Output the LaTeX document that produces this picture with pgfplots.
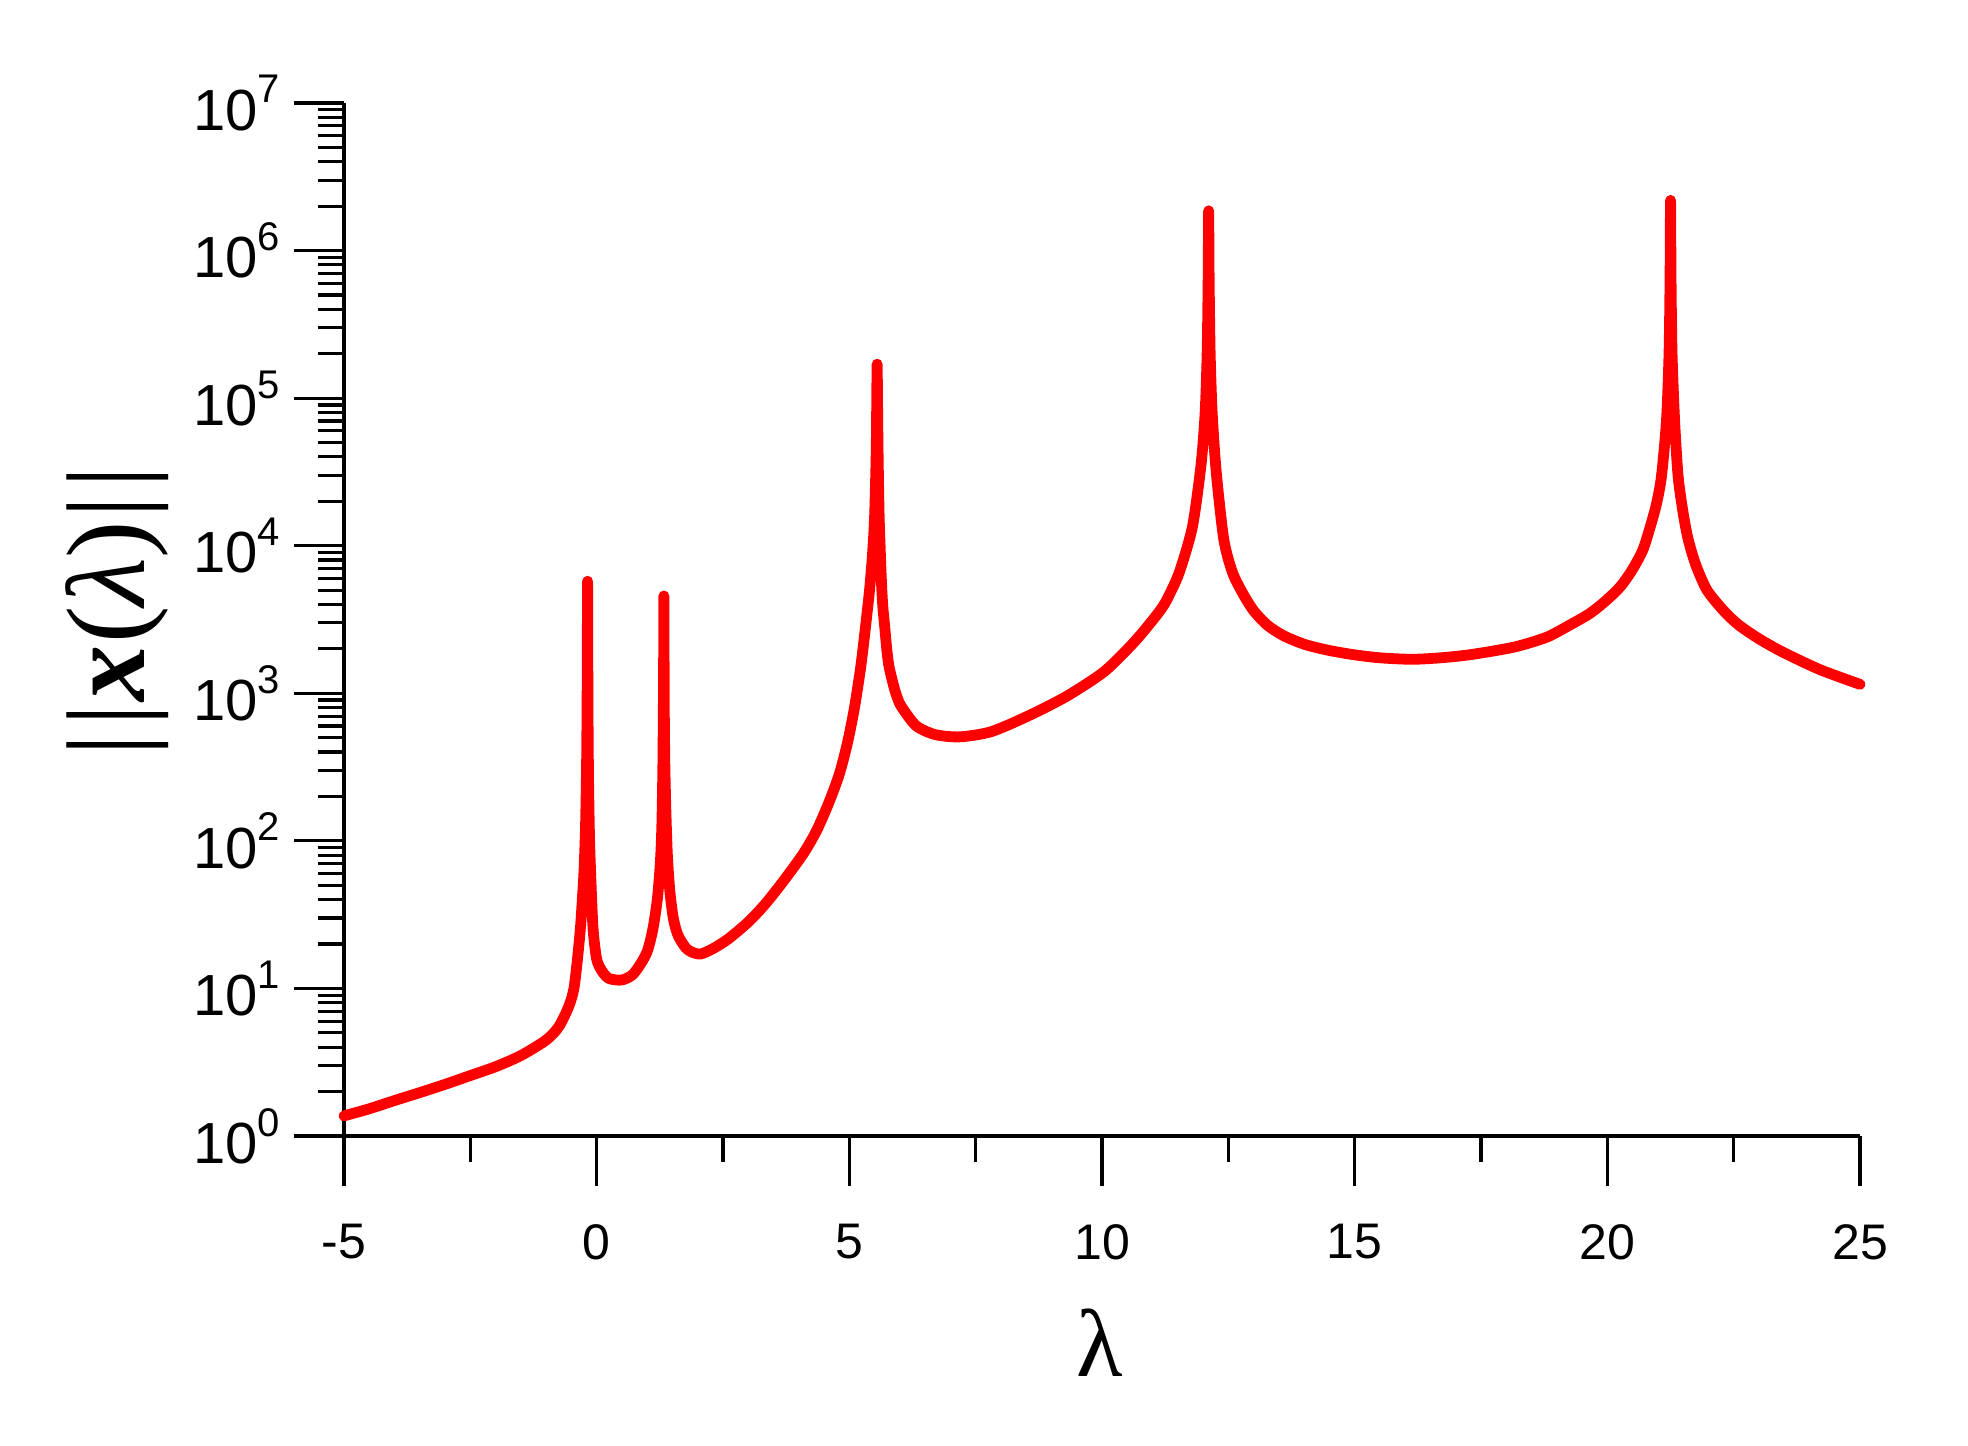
\documentclass[border=0pt]{standalone}
\usepackage{fontspec}
\setmainfont{Liberation Sans}
\newfontfamily\serif{Liberation Serif}
\usepackage{pgfplots}
\pgfplotsset{compat=1.18}

\newcommand{\tenpow}[1]{10\raisebox{6.8pt}{\fontsize{10}{10}\selectfont #1}}

\begin{document}
\begin{tikzpicture}
\begin{axis}[
  scale only axis,
  width=379pt, height=258.25pt,
  xmin=-5, xmax=25, ymin=1, ymax=1e7,
  ymode=log,
  axis x line*=bottom, axis y line*=left,
  axis line style={line width=0.8pt},
  every tick/.style={black, line width=0.8pt},
  tick align=outside,
  major tick length=12.5pt, minor tick length=6.5pt,
  xtick={-5,0,5,10,15,20,25},
  xticklabels={-5,0,5,10,15,20,25},
  minor xtick={-2.5,2.5,7.5,12.5,17.5,22.5},
  ytick={1,10,100,1000,10000,100000,1000000,10000000},
  yticklabels={\tenpow{0},\tenpow{1},\tenpow{2},\tenpow{3},\tenpow{4},\tenpow{5},\tenpow{6},\tenpow{7}},
  xticklabel style={font=\fontsize{12.5}{14}\selectfont, yshift=-6pt},
  yticklabel style={font=\fontsize{14.5}{16}\selectfont},
  xlabel={\serif\fontsize{24}{28}\selectfont λ},
  ylabel={\serif\fontsize{28}{32}\selectfont |\kern2pt|\kern0.5pt\textbf{\textit{x}}\kern0.5pt(\textit{λ})\kern0.5pt|\kern2pt|},
  xlabel style={at={(axis description cs:0.4987,-0.2004)}, anchor=center},
  ylabel style={at={(axis description cs:-0.1497,0.508)}, anchor=center},
  clip=false,
]
\addplot[color=red, line width=2.7pt, line join=round, line cap=round, smooth, tension=0.45] coordinates {
  (-5.00,1.37)(-4.5,1.53)(-4.0,1.74)(-3.5,1.97)(-3.0,2.24)(-2.5,2.57)
  (-2.0,2.95)(-1.5,3.51)(-1.0,4.47)(-0.75,5.50)(-0.55,7.59)(-0.45,10)
  (-0.38,15.8)(-0.32,26)
  (-0.28,42)(-0.25,63)(-0.22,126)(-0.20,316)(-0.19,800)(-0.185,2000)
  (-0.18,5750)(-0.175,1580)(-0.17,630)(-0.16,250)(-0.14,100)(-0.11,50)
  (-0.07,25)(0.0,15.8)(0.1,13.2)(0.24,11.7)(0.49,11.4)(0.7,12.3)
  (0.86,14.5)(1.0,17.8)(1.11,25)(1.2,40)(1.26,71)(1.29,126)(1.31,316)
  (1.32,800)(1.325,1580)(1.33,4570)(1.335,1410)(1.34,630)(1.35,316)
  (1.37,158)(1.40,79)(1.45,45)(1.52,29.5)(1.61,22.9)(1.75,19.1)
  (1.86,17.8)(2.05,17.1)(2.3,18.6)(2.6,21.6)(3.0,28.2)(3.34,37.5)
  (3.7,53.7)(4.09,82)(4.35,117)(4.59,180)(4.8,282)(4.96,457)(5.1,794)
  (5.23,1550)(5.32,2820)(5.40,5010)(5.46,8900)(5.50,15800)(5.53,39800)
  (5.54,79400)(5.55,170000)(5.56,79400)(5.57,39800)(5.59,15800)
  (5.63,6310)(5.66,3980)(5.70,2820)(5.74,2000)(5.78,1550)(5.84,1260)
  (5.9,1050)(5.95,933)(6.03,813)(6.32,603)
  (6.70,525)(7.19,507)(7.81,550)(8.56,708)(9.30,955)(10.05,1410)
  (10.67,2290)(11.17,3720)(11.35,4790)(11.54,6760)(11.79,13500)(11.96,35500)
  (12.04,79400)(12.08,200000)(12.10,631000)(12.11,1860000)(12.12,631000)
  (12.14,200000)(12.18,79400)(12.26,31600)(12.41,11000)(12.58,6610)
  (12.78,4790)(13.0,3630)(13.28,2880)(13.6,2450)(14.02,2140)(14.5,1950)
  (15.01,1820)(15.5,1740)(16.13,1700)(16.7,1740)(17.25,1820)(17.8,1950)
  (18.24,2090)(18.8,2400)(19.24,2880)(19.65,3470)(19.98,4270)(20.25,5250)
  (20.48,6760)(20.7,9330)(20.85,13500)(20.97,19100)(21.07,29500)
  (21.17,70800)(21.22,200000)(21.24,631000)
  (21.25,2190000)(21.26,631000)(21.28,200000)(21.33,70800)(21.40,29500)
  (21.5,16600)(21.60,11000)(21.75,7410)(21.97,5010)(22.3,3630)(22.59,2920)
  (23.0,2340)(23.46,1910)(24.2,1450)(25.0,1150)
};
\coordinate (bbl) at (rel axis cs:-0.2269,-0.2991);
\coordinate (btr) at (rel axis cs:1.0712,1.0997);
\end{axis}
\path (bbl) rectangle (btr);
\end{tikzpicture}
\end{document}
